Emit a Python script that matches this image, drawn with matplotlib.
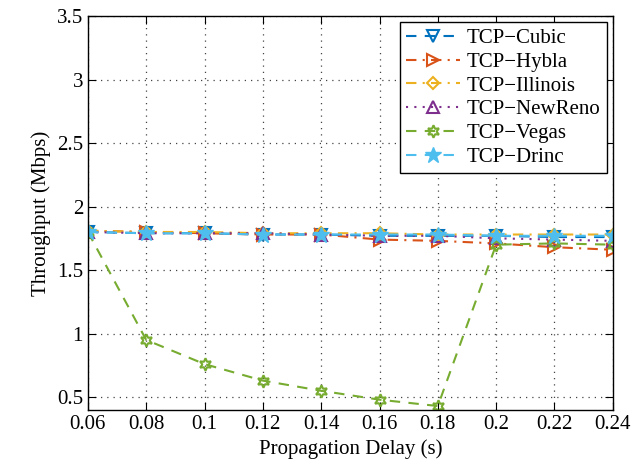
import matplotlib
matplotlib.use('Agg')
import matplotlib.pyplot as plt

plt.rcParams['font.family'] = ['Liberation Serif', 'DejaVu Serif']
plt.rcParams['mathtext.fontset'] = 'stix'

delay = [0.06, 0.08, 0.10, 0.12, 0.14, 0.16, 0.18, 0.20, 0.22, 0.24]

cubic = [1.80, 1.79, 1.79, 1.78, 1.78, 1.77, 1.77, 1.77, 1.76, 1.76]
hybla = [1.81, 1.80, 1.79, 1.78, 1.78, 1.74, 1.73, 1.71, 1.68, 1.66]
illinois = [1.81, 1.80, 1.80, 1.79, 1.79, 1.79, 1.78, 1.78, 1.78, 1.78]
newreno = [1.80, 1.79, 1.79, 1.79, 1.78, 1.77, 1.77, 1.75, 1.74, 1.73]
vegas = [1.80, 0.95, 0.76, 0.63, 0.55, 0.48, 0.43, 1.70, 1.71, 1.70]
drinc = [1.80, 1.79, 1.79, 1.78, 1.78, 1.78, 1.78, 1.77, 1.77, 1.77]

xticks = [0.06, 0.08, 0.1, 0.12, 0.14, 0.16, 0.18, 0.2, 0.22, 0.24]
yticks = [0.5, 1, 1.5, 2, 2.5, 3, 3.5]

fig = plt.figure(figsize=(6.37, 4.70), dpi=100)
ax = fig.add_axes([0.138, 0.128, 0.824, 0.838])

dash = (0, (5, 4))
dashdot = (0, (5, 3, 1, 3))
ax.plot(delay, cubic, ls=dash, color='#0072BD', marker='v', mfc='none', mew=1.5, ms=8, lw=1.5, label='TCP\u2212Cubic')
ax.plot(delay, hybla, ls=dashdot, color='#D95319', marker='>', mfc='none', mew=1.5, ms=8, lw=1.5, label='TCP\u2212Hybla')
ax.plot(delay, illinois, ls=dashdot, color='#EDB120', marker='D', mfc='none', mew=1.5, ms=6, lw=1.5, label='TCP\u2212Illinois')
ax.plot(delay, newreno, ls=(0, (1, 3)), color='#7E2F8E', marker='^', mfc='none', mew=1.5, ms=8, lw=1.5, label='TCP\u2212NewReno')
ax.plot(delay, vegas, ls=dash, color='#77AC30', marker=(6, 1, 0), mfc='none', mew=1.5, ms=9, lw=1.5, label='TCP\u2212Vegas')
ax.plot(delay, drinc, ls=dash, color='#4DBEEE', marker='*', mew=1, ms=12, lw=1.5, label='TCP\u2212Drinc')

ax.set_xlim(0.06, 0.24)
ax.set_ylim(0.4, 3.5)
ax.set_xticks(xticks)
ax.set_xticklabels([('%g' % t) for t in xticks])
ax.set_yticks(yticks)
ax.set_yticklabels([('%g' % t) for t in yticks])
ax.tick_params(direction='in', labelsize=15, top=True, right=True, length=6)
ax.grid(True, linestyle=(0, (1, 4)), color='#444444', linewidth=0.9)
ax.set_xlabel('Propagation Delay (s)', fontsize=15)
ax.set_ylabel('Throughput (Mbps)', fontsize=15)
for s in ax.spines.values():
    s.set_linewidth(1)

leg = ax.legend(loc='upper right', fontsize=15, fancybox=False, framealpha=1, edgecolor='black',
                handlelength=2.6, labelspacing=0.2, borderpad=0.3, handletextpad=0.3,
                borderaxespad=0.3)
leg.get_frame().set_linewidth(1)

plt.savefig('out.png', dpi=100)
